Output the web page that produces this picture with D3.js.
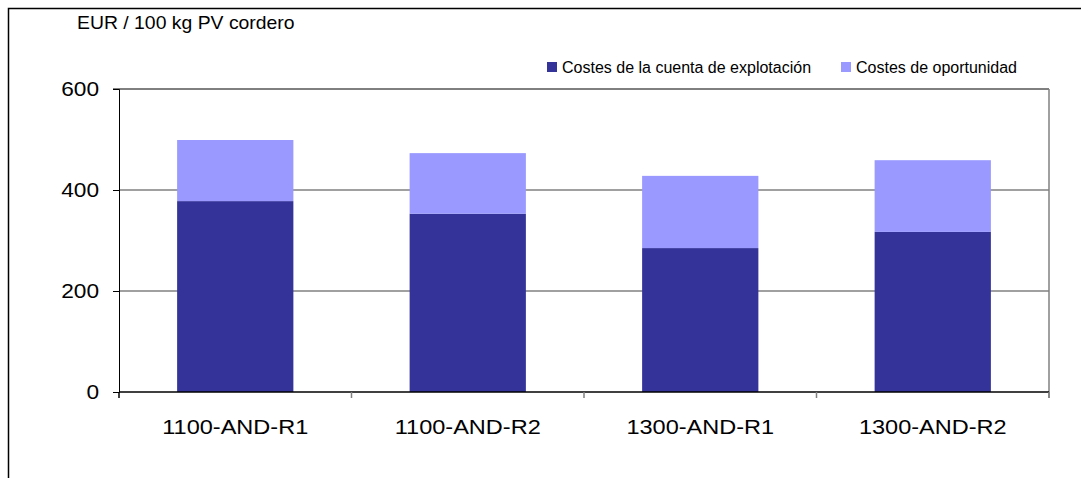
<!DOCTYPE html>
<html>
<head>
<meta charset="utf-8">
<script src="https://cdn.jsdelivr.net/npm/d3@7"></script>
<style>
  body { margin: 0; background: #fff; }
  svg { display: block; font-family: "Liberation Sans", Arial, sans-serif; }
</style>
</head>
<body>
<svg id="chart" width="1081" height="478"></svg>
<script>
/* DATA */
const categories = ["1100-AND-R1", "1100-AND-R2", "1300-AND-R1", "1300-AND-R2"];
const costesExplotacion = [378, 353, 285, 317];
const costesOportunidad = [121, 120, 143, 142];
const seriesNames = ["Costes de la cuenta de explotación", "Costes de oportunidad"];
const yTicks = [0, 200, 400, 600];

/* CONSTANTS */
const width = 1081, height = 478;
const margin = { top: 89, bottom: 86, left: 119, right: 32 };
const colors = ["#333399", "#9999ff"];

// the original font runs a bit wider than Liberation Sans
function stretch(sel, k) {
  sel.each(function () {
    const w = this.getComputedTextLength();
    d3.select(this).attr("textLength", w * k).attr("lengthAdjust", "spacingAndGlyphs");
  });
}

const svg = d3.select("#chart");

// outer frame (right and bottom run past the picture)
svg.append("rect")
  .attr("x", 8.5).attr("y", 8.5)
  .attr("width", 1100).attr("height", 500)
  .attr("fill", "none").attr("stroke", "#000").attr("stroke-width", 1.5);

// scales
const xScale = d3.scaleBand()
  .domain(categories)
  .range([margin.left, width - margin.right])
  .paddingInner(0.5)
  .paddingOuter(0.25);

const yScale = d3.scaleLinear()
  .domain([0, 600])
  .range([height - margin.bottom, margin.top]);

// stack the two series
const rows = categories.map((c, i) => ({ cat: c, a: costesExplotacion[i], b: costesOportunidad[i] }));
const stacked = d3.stack().keys(["a", "b"])(rows);

// gridlines
svg.append("g")
  .selectAll("line")
  .data(yTicks.filter(d => d > 0 && d < 600))
  .join("line")
  .attr("x1", margin.left).attr("x2", width - margin.right)
  .attr("y1", d => yScale(d)).attr("y2", d => yScale(d))
  .attr("stroke", "#808080").attr("stroke-width", 1.5);

// plot frame: top black, right gray
svg.append("line")
  .attr("x1", margin.left - 6).attr("x2", width - margin.right)
  .attr("y1", yScale(600)).attr("y2", yScale(600))
  .attr("stroke", "#000").attr("stroke-width", 1);
svg.append("line")
  .attr("x1", width - margin.right).attr("x2", width - margin.right)
  .attr("y1", yScale(600)).attr("y2", yScale(0) + 6)
  .attr("stroke", "#808080").attr("stroke-width", 1.5);

// bars
svg.append("g")
  .selectAll("g")
  .data(stacked)
  .join("g")
  .attr("fill", (d, i) => colors[i])
  .selectAll("rect")
  .data(d => d)
  .join("rect")
  .attr("x", d => xScale(d.data.cat))
  .attr("width", xScale.bandwidth())
  .attr("y", d => yScale(d[1]))
  .attr("height", d => yScale(d[0]) - yScale(d[1]));

// y axis
const yAxis = d3.axisLeft(yScale).tickValues(yTicks).tickSize(6).tickPadding(14);
const yAxisGroup = svg.append("g")
  .attr("transform", `translate(${margin.left},0)`)
  .call(yAxis);
yAxisGroup.select(".domain").attr("stroke", "#000");
yAxisGroup.selectAll("text")
  .attr("font-size", 21).attr("fill", "#000")
  .attr("font-family", "Liberation Sans, Arial, sans-serif")
  .call(stretch, 1.08);

// x axis: ticks between categories
const x0 = margin.left, step = xScale.step();
const xAxisGroup = svg.append("g");
xAxisGroup.append("line")
  .attr("x1", margin.left).attr("x2", width - margin.right)
  .attr("y1", yScale(0)).attr("y2", yScale(0))
  .attr("stroke", "#000").attr("stroke-width", 1.5);
xAxisGroup.selectAll(".xtick")
  .data(d3.range(categories.length + 1))
  .join("line")
  .attr("class", "xtick")
  .attr("x1", i => x0 + i * step).attr("x2", i => x0 + i * step)
  .attr("y1", yScale(0)).attr("y2", yScale(0) + 6)
  .attr("stroke", (d, i) => i === 0 ? "#000" : "#808080")
  .attr("stroke-width", 1.5);
xAxisGroup.selectAll(".xlabel")
  .data(categories)
  .join("text")
  .attr("class", "xlabel")
  .attr("x", d => xScale(d) + xScale.bandwidth() / 2)
  .attr("y", yScale(0) + 42)
  .attr("text-anchor", "middle")
  .attr("font-size", 21)
  .text(d => d)
  .call(stretch, 1.12);

// axis title
svg.append("text")
  .attr("x", 77).attr("y", 29)
  .attr("font-size", 19)
  .text("EUR / 100 kg PV cordero")
  .call(stretch, 1.02);

// legend
const legendX = [547, 841];
const legend = svg.append("g")
  .selectAll("g")
  .data(seriesNames)
  .join("g")
  .attr("transform", (d, i) => `translate(${legendX[i]},62)`);
legend.append("rect")
  .attr("width", 10).attr("height", 10)
  .attr("fill", (d, i) => colors[i]);
legend.append("text")
  .attr("x", 15).attr("y", 10.5)
  .attr("font-size", 16)
  .text(d => d);
</script>
</body>
</html>
